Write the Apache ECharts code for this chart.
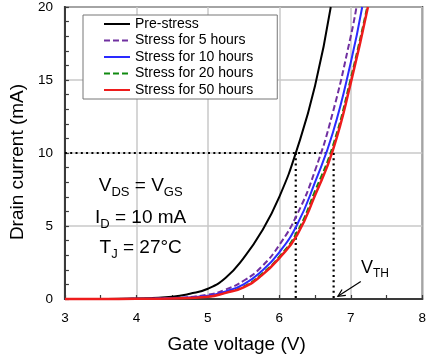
<!DOCTYPE html>
<html>
<head>
<meta charset="utf-8">
<script src="https://cdn.jsdelivr.net/npm/echarts@6/dist/echarts.min.js"></script>
<style>
  html, body { margin: 0; padding: 0; background: #fff; }
  #chart { width: 429px; height: 362px; }
</style>
</head>
<body>
<div id="chart"></div>
<script>
// gate voltage (V) / drain current (mA)
const preStressV = [3, 3.5, 4, 4.5, 4.75, 5, 5.25, 5.5, 5.75, 6, 6.25, 6.5, 6.72]
const preStressI = [0, 0.005, 0.04, 0.16, 0.36, 0.7, 1.45, 2.8, 4.6, 7.0, 10.3, 14.6, 20]
const stress5V = [3, 3.5, 4, 4.5, 5, 5.25, 5.5, 5.75, 6, 6.25, 6.5, 6.75, 7, 7.08]
const stress5I = [0, 0.002, 0.01, 0.07, 0.3, 0.65, 1.25, 2.2, 3.7, 5.8, 8.8, 12.8, 18, 20]
const stress10V = [3, 3.5, 4, 4.5, 5, 5.25, 5.5, 5.75, 6, 6.25, 6.5, 6.75, 7, 7.16]
const stress10I = [0, 0.002, 0.01, 0.05, 0.22, 0.52, 1.0, 1.9, 3.2, 5.1, 8.0, 11.4, 16.2, 20]
const stress20V = [3, 3.5, 4, 4.5, 5, 5.25, 5.5, 5.75, 6, 6.25, 6.5, 6.75, 7, 7.23]
const stress20I = [0, 0.001, 0.01, 0.04, 0.17, 0.45, 0.85, 1.7, 2.9, 4.6, 7.4, 10.5, 15.1, 20]
const stress50V = [3, 3.5, 4, 4.5, 5, 5.25, 5.5, 5.75, 6, 6.25, 6.5, 6.75, 7, 7.24]
const stress50I = [0, 0.001, 0.01, 0.04, 0.15, 0.42, 0.8, 1.6, 2.8, 4.4, 7.1, 10.2, 14.8, 20]

const seriesNames = ['Pre-stress', 'Stress for 5 hours', 'Stress for 10 hours', 'Stress for 20 hours', 'Stress for 50 hours']
const seriesColors = ['#000000', '#7030a0', '#2a2aff', '#108a10', '#ee1c1c']

// threshold read-out at I_D = 10 mA
const idRef = 10
const vthPre = 6.23
const vthPost = 6.76

const FONT = '"Liberation Sans", Arial, sans-serif'

function zip(xs, ys) {
  return xs.map((x, i) => [x, ys[i]])
}

function curve(name, color, xs, ys, extra) {
  return {
    name,
    type: 'line',
    data: zip(xs, ys),
    symbol: 'none',
    smooth: 0.5,
    clip: false,
    lineStyle: { color, width: 2, ...extra },
    itemStyle: { color },
    z: 3,
  }
}

function dotted(points) {
  return {
    type: 'line',
    data: points,
    symbol: 'none',
    silent: true,
    clip: false,
    lineStyle: { color: '#000', width: 2.2, type: [2, 3.3] },
    z: 2,
  }
}

const chart = echarts.init(document.getElementById('chart'), null, { renderer: 'canvas' })

const axisCommon = {
  axisLine: { show: true, lineStyle: { color: '#3a3a3a', width: 2 } },
  axisTick: { show: true, inside: true, length: 4, lineStyle: { color: '#3a3a3a', width: 1.2 } },
  minorTick: { show: true, length: 4, lineStyle: { color: '#3a3a3a', width: 1.2 } },
  splitLine: { show: true, lineStyle: { color: '#c8c8c8', width: 1.5 } },
  axisLabel: { color: '#000', fontSize: 13.5, fontFamily: FONT, margin: 12 },
  nameLocation: 'middle',
}

chart.setOption({
  animation: false,
  grid: { left: 63, right: 4, top: 7, bottom: 63, show: true, borderColor: '#3a3a3a', borderWidth: 2 },
  legend: {
    data: seriesNames,
    orient: 'vertical',
    left: 83,
    top: 15,
    padding: [2, 24, 2, 20],
    itemWidth: 26,
    itemHeight: 14,
    itemGap: 2.5,
    selectedMode: false,
    backgroundColor: '#fff',
    borderColor: '#777',
    borderWidth: 1,
    itemStyle: { opacity: 0 },
    textStyle: { color: '#000', fontSize: 14, fontFamily: FONT },
  },
  xAxis: {
    ...axisCommon,
    type: 'value',
    min: 3,
    max: 8,
    interval: 1,
    minorTick: { ...axisCommon.minorTick, splitNumber: 2 },
    name: 'Gate voltage (V)',
    nameGap: 36,
    nameTextStyle: { color: '#000', fontSize: 19, fontFamily: FONT, padding: [0, 14, 0, 0] },
  },
  yAxis: {
    ...axisCommon,
    type: 'value',
    min: 0,
    max: 20,
    interval: 5,
    minorTick: { ...axisCommon.minorTick, splitNumber: 5 },
    name: 'Drain current (mA)',
    nameGap: 33,
    nameTextStyle: { color: '#000', fontSize: 19, fontFamily: FONT, padding: [0, 18, 0, 0] },
  },
  series: [
    dotted([[3, idRef], [vthPost, idRef]]),
    dotted([[vthPre, idRef], [vthPre, 0]]),
    dotted([[vthPost, idRef], [vthPost, 0]]),
    curve(seriesNames[0], seriesColors[0], preStressV, preStressI),
    curve(seriesNames[1], seriesColors[1], stress5V, stress5I, { type: [6, 3] }),
    curve(seriesNames[3], seriesColors[3], stress20V, stress20I, { type: [6, 3] }),
    curve(seriesNames[2], seriesColors[2], stress10V, stress10I),
    curve(seriesNames[4], seriesColors[4], stress50V, stress50I, { width: 2.5 }),
  ],
})

// annotations placed from data coordinates
const tip = chart.convertToPixel({ gridIndex: 0 }, [6.82, 0.18])
const tail = chart.convertToPixel({ gridIndex: 0 }, [7.14, 1.2])
const ang = Math.atan2(tail[1] - tip[1], tail[0] - tip[0])
const head = 8
const spread = 0.45
const textX = chart.convertToPixel({ gridIndex: 0 }, [4.06, 0])[0]

const main = { fontSize: 19, fontFamily: FONT, color: '#000', lineHeight: 22, verticalAlign: 'top' }
const sub = { fontSize: 13, fontFamily: FONT, color: '#000', lineHeight: 13, verticalAlign: 'top', padding: [10, 0, 0, 0] }

function label(y, text) {
  return {
    type: 'text',
    x: textX,
    y,
    style: { text, rich: { m: main, s: sub }, align: 'center', verticalAlign: 'top' },
    z: 10,
  }
}

chart.setOption({
  graphic: [
    label(176, '{m|V}{s|DS}{m| = V}{s|GS}'),
    label(208, '{m|I}{s|D}{m| = 10 mA}'),
    label(238, '{m|T}{s|J}{m| = 27°C}'),
    {
      type: 'text',
      x: 361,
      y: 259,
      style: {
        text: '{m|V}{s|TH}',
        rich: {
          m: { fontSize: 18, fontFamily: FONT, color: '#000', lineHeight: 20, verticalAlign: 'top' },
          s: { fontSize: 12, fontFamily: FONT, color: '#000', lineHeight: 12, verticalAlign: 'top', padding: [9, 0, 0, 0] },
        },
      },
      z: 10,
    },
    {
      type: 'line',
      shape: { x1: tail[0], y1: tail[1], x2: tip[0], y2: tip[1] },
      style: { stroke: '#000', lineWidth: 1.2 },
      z: 10,
    },
    {
      type: 'polyline',
      shape: {
        points: [
          [tip[0] + head * Math.cos(ang - spread), tip[1] + head * Math.sin(ang - spread)],
          tip,
          [tip[0] + head * Math.cos(ang + spread), tip[1] + head * Math.sin(ang + spread)],
        ],
      },
      style: { stroke: '#000', lineWidth: 1.2, fill: null },
      z: 10,
    },
  ],
})
</script>
</body>
</html>
